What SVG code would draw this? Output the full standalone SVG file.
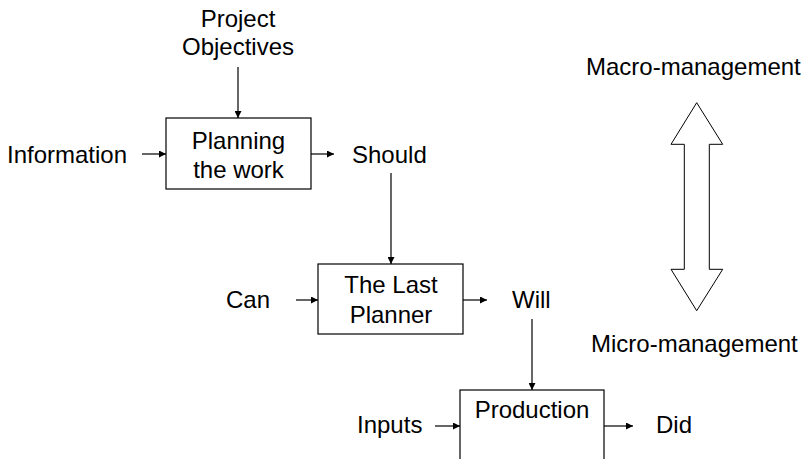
<svg xmlns="http://www.w3.org/2000/svg" width="810" height="459" viewBox="0 0 810 459">
<defs>
<marker id="ah" viewBox="0 0 10 10" refX="10" refY="5" markerWidth="8" markerHeight="7" markerUnits="userSpaceOnUse" orient="auto">
<path d="M0,0 L10,5 L0,10 z" fill="#000"/>
</marker>
</defs>
<style>
text{font-family:"Liberation Sans",Arial,sans-serif;font-size:24px;fill:#000}
.c{text-anchor:middle}
.box{fill:#fff;stroke:#000;stroke-width:1.2}
.ln{stroke:#000;stroke-width:1.2;fill:none;marker-end:url(#ah)}
</style>
<rect width="810" height="459" fill="#fff"/>
<g id="connectors">
<line class="ln" x1="238" y1="67" x2="238" y2="118"/>
<line class="ln" x1="142" y1="154" x2="166" y2="154"/>
<line class="ln" x1="311" y1="154" x2="334" y2="154"/>
<line class="ln" x1="391" y1="173" x2="391" y2="264"/>
<line class="ln" x1="296" y1="300" x2="318" y2="300"/>
<line class="ln" x1="463" y1="300" x2="487" y2="300"/>
<line class="ln" x1="532" y1="319" x2="532" y2="390"/>
<line class="ln" x1="435" y1="426" x2="460" y2="426"/>
<line class="ln" x1="604" y1="426" x2="633" y2="426"/>
</g>
<g id="project-objectives">
<text class="c" x="238" y="27">Project</text>
<text class="c" x="238" y="55">Objectives</text>
</g>
<g id="information"><text x="7" y="163">Information</text></g>
<g id="planning">
<rect class="box" x="166" y="118" width="145" height="71"/>
<text class="c" x="238.5" y="149">Planning</text>
<text class="c" x="238.5" y="178">the work</text>
</g>
<g id="should"><text x="352" y="163">Should</text></g>
<g id="can"><text x="226" y="308">Can</text></g>
<g id="last-planner">
<rect class="box" x="318" y="264" width="145" height="70"/>
<text class="c" x="391" y="293">The Last</text>
<text class="c" x="391" y="323">Planner</text>
</g>
<g id="will"><text x="512" y="308">Will</text></g>
<g id="inputs"><text x="357" y="433">Inputs</text></g>
<g id="production">
<rect class="box" x="460" y="390" width="144" height="80"/>
<text class="c" x="532" y="418">Production</text>
</g>
<g id="did"><text x="656" y="433">Did</text></g>
<g id="macro"><text x="586" y="75">Macro-management</text></g>
<g id="micro"><text x="591" y="352">Micro-management</text></g>
<g id="scale-arrow">
<path d="M696.7,102.7 L722.7,144.3 L709.3,144.3 L709.3,269.3 L722.7,269.3 L696.7,310.7 L671,269.3 L684.3,269.3 L684.3,144.3 L671,144.3 Z" fill="#fff" stroke="#000" stroke-width="1"/>
</g>
</svg>
